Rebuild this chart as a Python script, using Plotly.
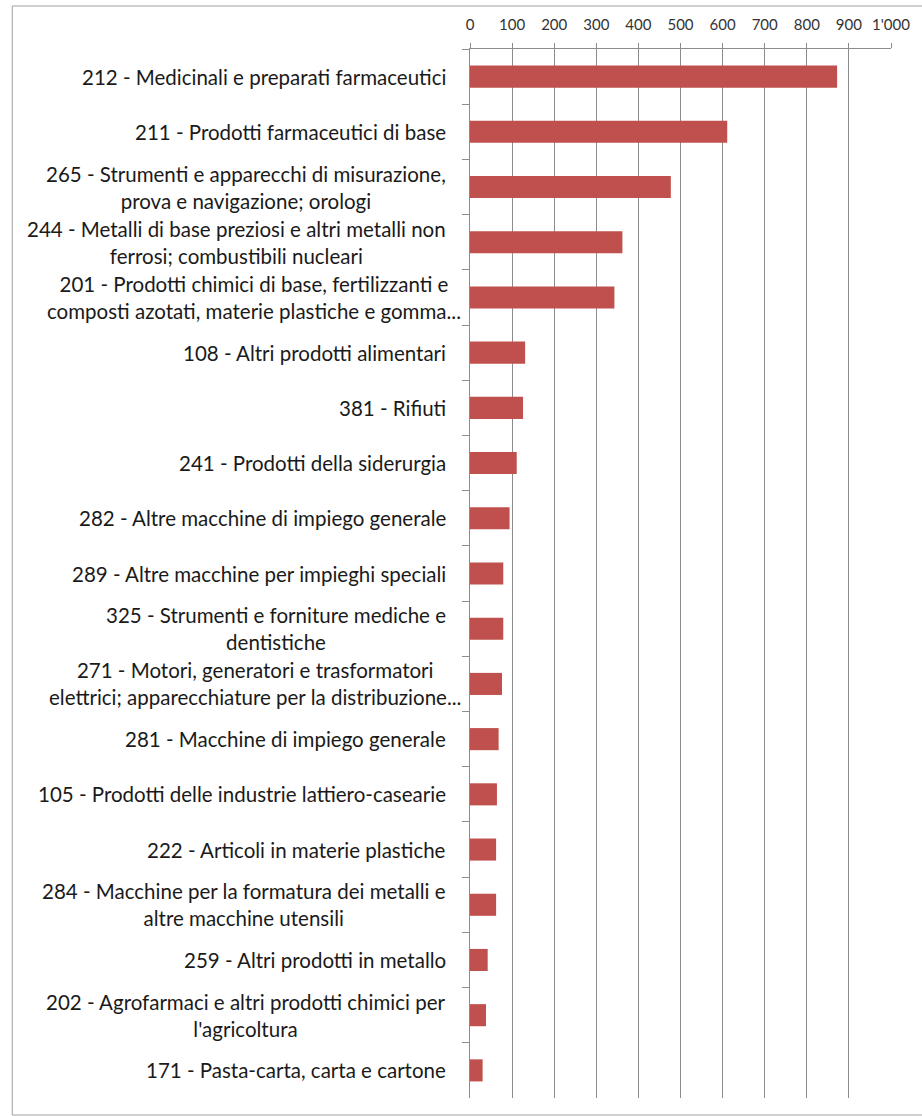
import plotly.graph_objects as go

categories = [
    "212 - Medicinali e preparati farmaceutici",
    "211 - Prodotti farmaceutici di base",
    "265 - Strumenti e apparecchi di misurazione,<br>prova e navigazione; orologi",
    "244 - Metalli di base preziosi e altri metalli non<br>ferrosi; combustibili nucleari",
    "201 - Prodotti chimici di base, fertilizzanti e<br>composti azotati, materie plastiche e gomma...",
    "108 - Altri prodotti alimentari",
    "381 - Rifiuti",
    "241 - Prodotti della siderurgia",
    "282 - Altre macchine di impiego generale",
    "289 - Altre macchine per impieghi speciali",
    "325 - Strumenti e forniture mediche e<br>dentistiche",
    "271 - Motori, generatori e trasformatori<br>elettrici; apparecchiature per la distribuzione...",
    "281 - Macchine di impiego generale",
    "105 - Prodotti delle industrie lattiero-casearie",
    "222 - Articoli in materie plastiche",
    "284 - Macchine per la formatura dei metalli e<br>altre macchine utensili",
    "259 - Altri prodotti in metallo",
    "202 - Agrofarmaci e altri prodotti chimici per<br>l'agricoltura",
    "171 - Pasta-carta, carta e cartone",
]
values = [872, 611, 477, 362, 343, 131, 126, 111, 94, 79, 79, 76, 68, 64, 62, 62, 42, 38, 30]

tick_vals = [0, 100, 200, 300, 400, 500, 600, 700, 800, 900, 1000]
tick_text = ["0", "100", "200", "300", "400", "500", "600", "700", "800", "900", "1'000"]

W, H = 922, 1116
ML, MR, MT, MB = 470, 28, 49, 18
GREY = "#8c8c8c"
FONT = "Lato"

fig = go.Figure(go.Bar(
    y=categories,
    x=values,
    orientation="h",
    width=0.4,
    marker=dict(color="#C0504D", line=dict(width=0)),
    hovertemplate="%{y}: %{x}<extra></extra>",
))

# category labels as annotations so wrapped lines are centred like Excel
for cat in categories:
    shift = -7 if cat.endswith("...") else -22
    fig.add_annotation(
        x=0, xref="paper", y=cat, yref="y",
        text=cat, showarrow=False, xanchor="right", align="center",
        xshift=shift, font=dict(family=FONT, size=20.5, color="#1a1a1a"),
    )

pw = W - ML - MR
ph = H - MT - MB
# outer chart frame
fig.add_shape(
    type="rect", xref="paper", yref="paper",
    x0=(9 - ML) / pw, x1=(W + 5 - ML) / pw,
    y0=-(MB - 1) / ph, y1=1 + (MT - 6) / ph,
    line=dict(color="#a0a0a0", width=1),
)

fig.update_layout(
    width=W, height=H,
    margin=dict(l=ML, r=MR, t=MT, b=MB),
    paper_bgcolor="white", plot_bgcolor="white",
    showlegend=False,
    font=dict(family=FONT, color="#404040"),
)
fig.update_xaxes(
    side="top", range=[0, 1000],
    tickvals=tick_vals, ticktext=tick_text,
    tickfont=dict(family=FONT, size=15, color="#333333"),
    ticklabelstandoff=7,
    showgrid=True, gridcolor=GREY, gridwidth=1,
    showline=True, linecolor=GREY, linewidth=1,
    ticks="outside", ticklen=5, tickcolor=GREY,
    zeroline=False, fixedrange=True,
)
fig.update_yaxes(
    autorange="reversed", showticklabels=False,
    showline=True, linecolor=GREY, linewidth=1,
    ticks="outside", ticklen=7, tickcolor=GREY, tickson="boundaries",
    showgrid=False, zeroline=False, fixedrange=True,
)

fig.write_html("out.html", config={"displayModeBar": False},
               post_script="document.body.style.margin='0';")
